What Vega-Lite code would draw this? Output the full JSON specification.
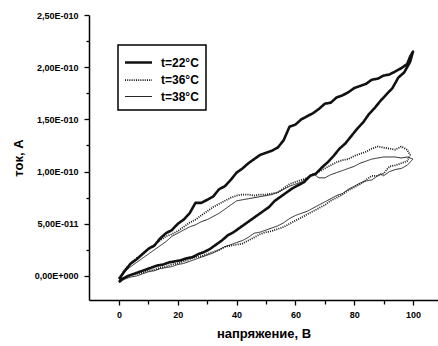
{
  "$schema": "https://vega.github.io/schema/vega-lite/v6.json",
  "width": 349,
  "height": 285,
  "autosize": {"type": "none"},
  "padding": {"left": 89, "top": 15, "right": 0, "bottom": 46},
  "background": "white",
  "config": {
    "view": {"stroke": null},
    "font": "Liberation Sans",
    "legend": {"strokeWidth": 1.5}
  },
  "data": {"values": [
    {"t":"t=22°C","s":1,"V":0,"I":-0.3e-11},{"t":"t=22°C","s":2,"V":2,"I":0.5e-11},{"t":"t=22°C","s":3,"V":4,"I":1.2e-11},{"t":"t=22°C","s":4,"V":6,"I":1.6e-11},{"t":"t=22°C","s":5,"V":8,"I":2.1e-11},{"t":"t=22°C","s":6,"V":10,"I":2.6e-11},{"t":"t=22°C","s":7,"V":12,"I":2.9e-11},{"t":"t=22°C","s":8,"V":14,"I":3.6e-11},{"t":"t=22°C","s":9,"V":16,"I":4.1e-11},{"t":"t=22°C","s":10,"V":18,"I":4.4e-11},
    {"t":"t=22°C","s":11,"V":20,"I":5.0e-11},{"t":"t=22°C","s":12,"V":22,"I":5.4e-11},{"t":"t=22°C","s":13,"V":24,"I":6.0e-11},{"t":"t=22°C","s":14,"V":26,"I":7.0e-11},{"t":"t=22°C","s":15,"V":28,"I":7.0e-11},{"t":"t=22°C","s":16,"V":30,"I":7.3e-11},{"t":"t=22°C","s":17,"V":32,"I":7.6e-11},{"t":"t=22°C","s":18,"V":34,"I":8.3e-11},{"t":"t=22°C","s":19,"V":36,"I":8.6e-11},{"t":"t=22°C","s":20,"V":38,"I":9.2e-11},
    {"t":"t=22°C","s":21,"V":40,"I":9.9e-11},{"t":"t=22°C","s":22,"V":42,"I":10.3e-11},{"t":"t=22°C","s":23,"V":44,"I":10.8e-11},{"t":"t=22°C","s":24,"V":46,"I":11.2e-11},{"t":"t=22°C","s":25,"V":48,"I":11.6e-11},{"t":"t=22°C","s":26,"V":50,"I":11.8e-11},{"t":"t=22°C","s":27,"V":52,"I":12.0e-11},{"t":"t=22°C","s":28,"V":54,"I":12.3e-11},{"t":"t=22°C","s":29,"V":56,"I":13.0e-11},{"t":"t=22°C","s":30,"V":58,"I":14.3e-11},
    {"t":"t=22°C","s":31,"V":60,"I":14.5e-11},{"t":"t=22°C","s":32,"V":62,"I":15.0e-11},{"t":"t=22°C","s":33,"V":64,"I":15.3e-11},{"t":"t=22°C","s":34,"V":66,"I":15.6e-11},{"t":"t=22°C","s":35,"V":68,"I":16.0e-11},{"t":"t=22°C","s":36,"V":70,"I":16.5e-11},{"t":"t=22°C","s":37,"V":72,"I":16.6e-11},{"t":"t=22°C","s":38,"V":74,"I":17.1e-11},{"t":"t=22°C","s":39,"V":76,"I":17.3e-11},{"t":"t=22°C","s":40,"V":78,"I":17.6e-11},
    {"t":"t=22°C","s":41,"V":80,"I":18.0e-11},{"t":"t=22°C","s":42,"V":82,"I":18.2e-11},{"t":"t=22°C","s":43,"V":84,"I":18.4e-11},{"t":"t=22°C","s":44,"V":86,"I":18.8e-11},{"t":"t=22°C","s":45,"V":88,"I":18.9e-11},{"t":"t=22°C","s":46,"V":90,"I":19.2e-11},{"t":"t=22°C","s":47,"V":92,"I":19.3e-11},{"t":"t=22°C","s":48,"V":94,"I":19.6e-11},{"t":"t=22°C","s":49,"V":96,"I":19.9e-11},{"t":"t=22°C","s":50,"V":98,"I":20.3e-11},
    {"t":"t=22°C","s":51,"V":99,"I":21.0e-11},{"t":"t=22°C","s":52,"V":100,"I":21.5e-11},
    {"t":"t=22°C","s":53,"V":99,"I":20.5e-11},{"t":"t=22°C","s":54,"V":97,"I":19.5e-11},{"t":"t=22°C","s":55,"V":95,"I":19.0e-11},{"t":"t=22°C","s":56,"V":93,"I":18.0e-11},{"t":"t=22°C","s":57,"V":91,"I":17.4e-11},{"t":"t=22°C","s":58,"V":89,"I":16.8e-11},{"t":"t=22°C","s":59,"V":87,"I":16.1e-11},{"t":"t=22°C","s":60,"V":85,"I":15.5e-11},
    {"t":"t=22°C","s":61,"V":83,"I":14.7e-11},{"t":"t=22°C","s":62,"V":81,"I":14.1e-11},{"t":"t=22°C","s":63,"V":79,"I":13.4e-11},{"t":"t=22°C","s":64,"V":77,"I":12.7e-11},{"t":"t=22°C","s":65,"V":75,"I":12.2e-11},{"t":"t=22°C","s":66,"V":73,"I":11.5e-11},{"t":"t=22°C","s":67,"V":71,"I":10.9e-11},{"t":"t=22°C","s":68,"V":69,"I":10.4e-11},{"t":"t=22°C","s":69,"V":67,"I":9.8e-11},{"t":"t=22°C","s":70,"V":65,"I":9.6e-11},
    {"t":"t=22°C","s":71,"V":63,"I":9.0e-11},{"t":"t=22°C","s":72,"V":61,"I":8.7e-11},{"t":"t=22°C","s":73,"V":59,"I":8.4e-11},{"t":"t=22°C","s":74,"V":57,"I":8.0e-11},{"t":"t=22°C","s":75,"V":55,"I":7.6e-11},{"t":"t=22°C","s":76,"V":53,"I":7.2e-11},{"t":"t=22°C","s":77,"V":51,"I":6.6e-11},{"t":"t=22°C","s":78,"V":49,"I":6.2e-11},{"t":"t=22°C","s":79,"V":47,"I":5.8e-11},{"t":"t=22°C","s":80,"V":45,"I":5.4e-11},
    {"t":"t=22°C","s":81,"V":43,"I":5.0e-11},{"t":"t=22°C","s":82,"V":41,"I":4.6e-11},{"t":"t=22°C","s":83,"V":39,"I":4.2e-11},{"t":"t=22°C","s":84,"V":37,"I":3.9e-11},{"t":"t=22°C","s":85,"V":35,"I":3.4e-11},{"t":"t=22°C","s":86,"V":33,"I":3.0e-11},{"t":"t=22°C","s":87,"V":31,"I":2.6e-11},{"t":"t=22°C","s":88,"V":29,"I":2.3e-11},{"t":"t=22°C","s":89,"V":27,"I":2.1e-11},{"t":"t=22°C","s":90,"V":25,"I":1.8e-11},
    {"t":"t=22°C","s":91,"V":23,"I":1.7e-11},{"t":"t=22°C","s":92,"V":21,"I":1.5e-11},{"t":"t=22°C","s":93,"V":19,"I":1.4e-11},{"t":"t=22°C","s":94,"V":17,"I":1.3e-11},{"t":"t=22°C","s":95,"V":15,"I":1.1e-11},{"t":"t=22°C","s":96,"V":13,"I":1.0e-11},{"t":"t=22°C","s":97,"V":11,"I":0.8e-11},{"t":"t=22°C","s":98,"V":9,"I":0.6e-11},{"t":"t=22°C","s":99,"V":7,"I":0.4e-11},{"t":"t=22°C","s":100,"V":5,"I":0.2e-11},
    {"t":"t=22°C","s":101,"V":3,"I":0.0},{"t":"t=22°C","s":102,"V":1,"I":-0.3e-11},{"t":"t=22°C","s":103,"V":0,"I":-0.6e-11},

    {"t":"t=36°C","s":1,"V":0,"I":-0.2e-11},{"t":"t=36°C","s":2,"V":2,"I":0.6e-11},{"t":"t=36°C","s":3,"V":4,"I":1.2e-11},{"t":"t=36°C","s":4,"V":6,"I":1.7e-11},{"t":"t=36°C","s":5,"V":8,"I":2.1e-11},{"t":"t=36°C","s":6,"V":10,"I":2.6e-11},{"t":"t=36°C","s":7,"V":12,"I":3.0e-11},{"t":"t=36°C","s":8,"V":14,"I":3.4e-11},{"t":"t=36°C","s":9,"V":16,"I":3.8e-11},{"t":"t=36°C","s":10,"V":18,"I":4.0e-11},
    {"t":"t=36°C","s":11,"V":20,"I":4.3e-11},{"t":"t=36°C","s":12,"V":22,"I":4.7e-11},{"t":"t=36°C","s":13,"V":24,"I":5.1e-11},{"t":"t=36°C","s":14,"V":26,"I":5.4e-11},{"t":"t=36°C","s":15,"V":28,"I":5.8e-11},{"t":"t=36°C","s":16,"V":30,"I":6.2e-11},{"t":"t=36°C","s":17,"V":32,"I":6.6e-11},{"t":"t=36°C","s":18,"V":34,"I":6.9e-11},{"t":"t=36°C","s":19,"V":36,"I":7.2e-11},{"t":"t=36°C","s":20,"V":38,"I":7.5e-11},
    {"t":"t=36°C","s":21,"V":40,"I":7.7e-11},{"t":"t=36°C","s":22,"V":42,"I":7.8e-11},{"t":"t=36°C","s":23,"V":44,"I":7.8e-11},{"t":"t=36°C","s":24,"V":46,"I":7.7e-11},{"t":"t=36°C","s":25,"V":48,"I":7.8e-11},{"t":"t=36°C","s":26,"V":50,"I":7.8e-11},{"t":"t=36°C","s":27,"V":52,"I":7.9e-11},{"t":"t=36°C","s":28,"V":54,"I":8.0e-11},{"t":"t=36°C","s":29,"V":56,"I":8.4e-11},{"t":"t=36°C","s":30,"V":58,"I":8.8e-11},
    {"t":"t=36°C","s":31,"V":60,"I":9.0e-11},{"t":"t=36°C","s":32,"V":62,"I":9.2e-11},{"t":"t=36°C","s":33,"V":64,"I":9.4e-11},{"t":"t=36°C","s":34,"V":66,"I":9.7e-11},{"t":"t=36°C","s":35,"V":68,"I":10.0e-11},{"t":"t=36°C","s":36,"V":70,"I":10.3e-11},{"t":"t=36°C","s":37,"V":72,"I":10.6e-11},{"t":"t=36°C","s":38,"V":74,"I":10.9e-11},{"t":"t=36°C","s":39,"V":76,"I":11.1e-11},{"t":"t=36°C","s":40,"V":78,"I":11.2e-11},
    {"t":"t=36°C","s":41,"V":80,"I":11.5e-11},{"t":"t=36°C","s":42,"V":82,"I":11.7e-11},{"t":"t=36°C","s":43,"V":84,"I":11.9e-11},{"t":"t=36°C","s":44,"V":86,"I":12.2e-11},{"t":"t=36°C","s":45,"V":88,"I":12.4e-11},{"t":"t=36°C","s":46,"V":90,"I":12.3e-11},{"t":"t=36°C","s":47,"V":92,"I":12.2e-11},{"t":"t=36°C","s":48,"V":94,"I":12.1e-11},{"t":"t=36°C","s":49,"V":96,"I":12.4e-11},{"t":"t=36°C","s":50,"V":98,"I":12.1e-11},
    {"t":"t=36°C","s":51,"V":99,"I":11.6e-11},{"t":"t=36°C","s":52,"V":98,"I":11.0e-11},{"t":"t=36°C","s":53,"V":96,"I":10.8e-11},{"t":"t=36°C","s":54,"V":94,"I":10.6e-11},{"t":"t=36°C","s":55,"V":92,"I":10.5e-11},{"t":"t=36°C","s":56,"V":90,"I":9.8e-11},{"t":"t=36°C","s":57,"V":88,"I":9.6e-11},{"t":"t=36°C","s":58,"V":86,"I":9.6e-11},{"t":"t=36°C","s":59,"V":84,"I":9.2e-11},{"t":"t=36°C","s":60,"V":82,"I":8.8e-11},
    {"t":"t=36°C","s":61,"V":80,"I":8.5e-11},{"t":"t=36°C","s":62,"V":78,"I":8.2e-11},{"t":"t=36°C","s":63,"V":76,"I":7.8e-11},{"t":"t=36°C","s":64,"V":74,"I":7.5e-11},{"t":"t=36°C","s":65,"V":72,"I":7.2e-11},{"t":"t=36°C","s":66,"V":70,"I":6.8e-11},{"t":"t=36°C","s":67,"V":68,"I":6.5e-11},{"t":"t=36°C","s":68,"V":66,"I":6.2e-11},{"t":"t=36°C","s":69,"V":64,"I":5.9e-11},{"t":"t=36°C","s":70,"V":62,"I":5.6e-11},
    {"t":"t=36°C","s":71,"V":60,"I":5.3e-11},{"t":"t=36°C","s":72,"V":58,"I":5.0e-11},{"t":"t=36°C","s":73,"V":56,"I":4.7e-11},{"t":"t=36°C","s":74,"V":54,"I":4.5e-11},{"t":"t=36°C","s":75,"V":52,"I":4.3e-11},{"t":"t=36°C","s":76,"V":50,"I":4.2e-11},{"t":"t=36°C","s":77,"V":48,"I":4.0e-11},{"t":"t=36°C","s":78,"V":46,"I":3.7e-11},{"t":"t=36°C","s":79,"V":44,"I":3.4e-11},{"t":"t=36°C","s":80,"V":42,"I":3.1e-11},
    {"t":"t=36°C","s":81,"V":40,"I":3.0e-11},{"t":"t=36°C","s":82,"V":38,"I":2.9e-11},{"t":"t=36°C","s":83,"V":36,"I":2.8e-11},{"t":"t=36°C","s":84,"V":34,"I":2.5e-11},{"t":"t=36°C","s":85,"V":32,"I":2.3e-11},{"t":"t=36°C","s":86,"V":30,"I":2.1e-11},{"t":"t=36°C","s":87,"V":28,"I":1.9e-11},{"t":"t=36°C","s":88,"V":26,"I":1.8e-11},{"t":"t=36°C","s":89,"V":24,"I":1.6e-11},{"t":"t=36°C","s":90,"V":22,"I":1.4e-11},
    {"t":"t=36°C","s":91,"V":20,"I":1.2e-11},{"t":"t=36°C","s":92,"V":18,"I":1.1e-11},{"t":"t=36°C","s":93,"V":16,"I":0.9e-11},{"t":"t=36°C","s":94,"V":14,"I":0.8e-11},{"t":"t=36°C","s":95,"V":12,"I":0.6e-11},{"t":"t=36°C","s":96,"V":10,"I":0.5e-11},{"t":"t=36°C","s":97,"V":8,"I":0.3e-11},{"t":"t=36°C","s":98,"V":6,"I":0.2e-11},{"t":"t=36°C","s":99,"V":4,"I":0.1e-11},{"t":"t=36°C","s":100,"V":2,"I":-0.2e-11},
    {"t":"t=36°C","s":101,"V":0,"I":-0.5e-11},

    {"t":"t=38°C","s":1,"V":0,"I":-0.4e-11},{"t":"t=38°C","s":2,"V":2,"I":0.4e-11},{"t":"t=38°C","s":3,"V":4,"I":0.9e-11},{"t":"t=38°C","s":4,"V":6,"I":1.3e-11},{"t":"t=38°C","s":5,"V":8,"I":1.7e-11},{"t":"t=38°C","s":6,"V":10,"I":2.1e-11},{"t":"t=38°C","s":7,"V":12,"I":2.5e-11},{"t":"t=38°C","s":8,"V":14,"I":2.9e-11},{"t":"t=38°C","s":9,"V":16,"I":3.3e-11},{"t":"t=38°C","s":10,"V":18,"I":3.8e-11},
    {"t":"t=38°C","s":11,"V":20,"I":4.1e-11},{"t":"t=38°C","s":12,"V":22,"I":4.4e-11},{"t":"t=38°C","s":13,"V":24,"I":4.7e-11},{"t":"t=38°C","s":14,"V":26,"I":4.9e-11},{"t":"t=38°C","s":15,"V":28,"I":5.2e-11},{"t":"t=38°C","s":16,"V":30,"I":5.4e-11},{"t":"t=38°C","s":17,"V":32,"I":5.7e-11},{"t":"t=38°C","s":18,"V":34,"I":6.0e-11},{"t":"t=38°C","s":19,"V":36,"I":6.4e-11},{"t":"t=38°C","s":20,"V":38,"I":6.8e-11},
    {"t":"t=38°C","s":21,"V":40,"I":7.2e-11},{"t":"t=38°C","s":22,"V":42,"I":7.3e-11},{"t":"t=38°C","s":23,"V":44,"I":7.4e-11},{"t":"t=38°C","s":24,"V":46,"I":7.5e-11},{"t":"t=38°C","s":25,"V":48,"I":7.6e-11},{"t":"t=38°C","s":26,"V":50,"I":7.7e-11},{"t":"t=38°C","s":27,"V":52,"I":7.8e-11},{"t":"t=38°C","s":28,"V":54,"I":8.0e-11},{"t":"t=38°C","s":29,"V":56,"I":8.3e-11},{"t":"t=38°C","s":30,"V":58,"I":8.6e-11},
    {"t":"t=38°C","s":31,"V":60,"I":8.8e-11},{"t":"t=38°C","s":32,"V":62,"I":9.0e-11},{"t":"t=38°C","s":33,"V":64,"I":9.4e-11},{"t":"t=38°C","s":34,"V":66,"I":9.8e-11},{"t":"t=38°C","s":35,"V":68,"I":9.4e-11},{"t":"t=38°C","s":36,"V":70,"I":9.4e-11},{"t":"t=38°C","s":37,"V":72,"I":9.7e-11},{"t":"t=38°C","s":38,"V":74,"I":9.9e-11},{"t":"t=38°C","s":39,"V":76,"I":10.1e-11},{"t":"t=38°C","s":40,"V":78,"I":10.3e-11},
    {"t":"t=38°C","s":41,"V":80,"I":10.5e-11},{"t":"t=38°C","s":42,"V":82,"I":10.8e-11},{"t":"t=38°C","s":43,"V":84,"I":11.0e-11},{"t":"t=38°C","s":44,"V":86,"I":11.2e-11},{"t":"t=38°C","s":45,"V":88,"I":11.3e-11},{"t":"t=38°C","s":46,"V":90,"I":11.4e-11},{"t":"t=38°C","s":47,"V":92,"I":11.4e-11},{"t":"t=38°C","s":48,"V":94,"I":11.4e-11},{"t":"t=38°C","s":49,"V":96,"I":11.3e-11},{"t":"t=38°C","s":50,"V":98,"I":11.4e-11},
    {"t":"t=38°C","s":51,"V":100,"I":11.2e-11},{"t":"t=38°C","s":52,"V":98,"I":10.6e-11},{"t":"t=38°C","s":53,"V":96,"I":10.3e-11},{"t":"t=38°C","s":54,"V":94,"I":10.2e-11},{"t":"t=38°C","s":55,"V":92,"I":10.0e-11},{"t":"t=38°C","s":56,"V":90,"I":9.6e-11},{"t":"t=38°C","s":57,"V":89,"I":9.8e-11},{"t":"t=38°C","s":58,"V":88,"I":9.6e-11},{"t":"t=38°C","s":59,"V":86,"I":9.2e-11},{"t":"t=38°C","s":60,"V":84,"I":9.1e-11},
    {"t":"t=38°C","s":61,"V":82,"I":8.9e-11},{"t":"t=38°C","s":62,"V":80,"I":8.6e-11},{"t":"t=38°C","s":63,"V":78,"I":8.3e-11},{"t":"t=38°C","s":64,"V":76,"I":7.9e-11},{"t":"t=38°C","s":65,"V":74,"I":7.7e-11},{"t":"t=38°C","s":66,"V":72,"I":7.4e-11},{"t":"t=38°C","s":67,"V":70,"I":7.1e-11},{"t":"t=38°C","s":68,"V":68,"I":6.8e-11},{"t":"t=38°C","s":69,"V":66,"I":6.5e-11},{"t":"t=38°C","s":70,"V":64,"I":6.2e-11},
    {"t":"t=38°C","s":71,"V":62,"I":6.0e-11},{"t":"t=38°C","s":72,"V":60,"I":5.8e-11},{"t":"t=38°C","s":73,"V":58,"I":5.5e-11},{"t":"t=38°C","s":74,"V":56,"I":5.1e-11},{"t":"t=38°C","s":75,"V":54,"I":4.8e-11},{"t":"t=38°C","s":76,"V":52,"I":4.6e-11},{"t":"t=38°C","s":77,"V":50,"I":4.4e-11},{"t":"t=38°C","s":78,"V":48,"I":4.2e-11},{"t":"t=38°C","s":79,"V":46,"I":4.1e-11},{"t":"t=38°C","s":80,"V":44,"I":3.7e-11},
    {"t":"t=38°C","s":81,"V":42,"I":3.4e-11},{"t":"t=38°C","s":82,"V":40,"I":3.2e-11},{"t":"t=38°C","s":83,"V":38,"I":3.0e-11},{"t":"t=38°C","s":84,"V":36,"I":2.8e-11},{"t":"t=38°C","s":85,"V":34,"I":2.5e-11},{"t":"t=38°C","s":86,"V":32,"I":2.2e-11},{"t":"t=38°C","s":87,"V":30,"I":2.0e-11},{"t":"t=38°C","s":88,"V":28,"I":1.8e-11},{"t":"t=38°C","s":89,"V":26,"I":1.6e-11},{"t":"t=38°C","s":90,"V":24,"I":1.4e-11},
    {"t":"t=38°C","s":91,"V":22,"I":1.2e-11},{"t":"t=38°C","s":92,"V":20,"I":1.1e-11},{"t":"t=38°C","s":93,"V":18,"I":0.9e-11},{"t":"t=38°C","s":94,"V":16,"I":0.8e-11},{"t":"t=38°C","s":95,"V":14,"I":0.7e-11},{"t":"t=38°C","s":96,"V":12,"I":0.5e-11},{"t":"t=38°C","s":97,"V":10,"I":0.4e-11},{"t":"t=38°C","s":98,"V":8,"I":0.2e-11},{"t":"t=38°C","s":99,"V":6,"I":0.0},{"t":"t=38°C","s":100,"V":4,"I":-0.1e-11},
    {"t":"t=38°C","s":101,"V":2,"I":-0.3e-11},{"t":"t=38°C","s":102,"V":0,"I":-0.6e-11}
  ]},
  "mark": {"type": "line", "stroke": "#111", "strokeJoin": "round", "clip": true},
  "encoding": {
    "x": {
      "field": "V", "type": "quantitative",
      "scale": {"domain": [-10.2, 108.5], "nice": false, "zero": false},
      "axis": {
        "title": "напряжение, В",
        "values": [0, 10, 20, 30, 40, 50, 60, 70, 80, 90, 100],
        "labelExpr": "datum.value % 20 == 0 ? datum.label : ''",
        "grid": false,
        "domainColor": "#000", "domainWidth": 1.5,
        "tickColor": "#000", "tickWidth": 1.3,
        "tickSize": {"condition": {"test": "datum.value % 20 == 0", "value": 5}, "value": 4},
        "labelFont": "Liberation Sans", "labelFontWeight": "bold", "labelFontSize": 9, "labelColor": "#000",
        "labelPadding": 5,
        "titleFont": "Liberation Sans", "titleFontWeight": "bold", "titleFontSize": 13, "titleColor": "#000",
        "titlePadding": 8
      }
    },
    "y": {
      "field": "I", "type": "quantitative",
      "scale": {"domain": [-2.3e-11, 2.5e-10], "nice": false, "zero": false},
      "axis": {
        "title": "ток, А",
        "values": [0, 2.5e-11, 5e-11, 7.5e-11, 1e-10, 1.25e-10, 1.5e-10, 1.75e-10, 2e-10, 2.25e-10, 2.5e-10],
        "labelExpr": "abs(datum.value/5e-11 - round(datum.value/5e-11)) > 0.01 ? '' : datum.value == 0 ? '0,00E+000' : replace(format(datum.value / pow(10, floor(log(datum.value)/LN10 + 1e-6)), '.2f'), '.', ',') + 'E-0' + (-floor(log(datum.value)/LN10 + 1e-6))",
        "grid": false,
        "domainColor": "#000", "domainWidth": 1.5,
        "tickColor": "#000", "tickWidth": 1.3,
        "tickSize": {"condition": {"test": "abs(datum.value/5e-11 - round(datum.value/5e-11)) < 0.01", "value": 5}, "value": 3},
        "labelFont": "Liberation Sans", "labelFontWeight": "bold", "labelFontSize": 9, "labelColor": "#000",
        "labelPadding": 6,
        "titleFont": "Liberation Sans", "titleFontWeight": "bold", "titleFontSize": 13, "titleColor": "#000",
        "titlePadding": 9
      }
    },
    "order": {"field": "s", "type": "quantitative"},
    "strokeDash": {
      "field": "t", "type": "nominal",
      "scale": {"domain": ["t=22°C", "t=36°C", "t=38°C"], "range": [[1, 0], [1, 1.2], [1, 0]]},
      "legend": {
        "title": null, "orient": "none", "legendX": 29, "legendY": 30,
        "strokeColor": "#000", "padding": 7,
        "symbolType": "M-1.5,0H1.5", "symbolSize": 324, "symbolStrokeColor": "#111",
        "symbolOffset": 3, "labelOffset": 12, "rowPadding": 1,
        "labelFont": "Liberation Sans", "labelFontWeight": "bold", "labelFontSize": 12, "labelColor": "#000"
      }
    },
    "strokeWidth": {
      "field": "t", "type": "nominal",
      "scale": {"domain": ["t=22°C", "t=36°C", "t=38°C"], "range": [2.6, 0.9, 1.7]},
      "legend": {
        "title": null, "orient": "none", "legendX": 29, "legendY": 30,
        "strokeColor": "#000", "padding": 7,
        "symbolType": "M-1.5,0H1.5", "symbolSize": 324, "symbolStrokeColor": "#111",
        "symbolOffset": 3, "labelOffset": 12, "rowPadding": 1,
        "labelFont": "Liberation Sans", "labelFontWeight": "bold", "labelFontSize": 12, "labelColor": "#000"
      }
    }
  }
}
